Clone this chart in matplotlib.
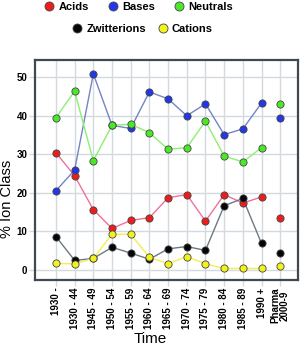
import matplotlib
matplotlib.use("Agg")
import matplotlib.pyplot as plt
from matplotlib.lines import Line2D
import numpy as np

plt.rcParams["font.family"] = ["Liberation Sans", "DejaVu Sans"]

# -- Data --
periods = ["1930 -", "1930 - 44", "1945 - 49", "1950 - 54", "1955 - 59", "1960 - 64",
           "1965 - 69", "1970 - 74", "1975 - 79", "1980 - 84", "1985 - 89", "1990 +",
           "Pharma\n2000-9"]
acids = [30.4, 24.4, 15.6, 10.7, 12.8, 13.5, 18.7, 19.5, 12.6, 19.5, 17.3, 18.9, 13.3]
bases = [20.5, 25.9, 50.9, 37.5, 36.7, 46.2, 44.4, 40.0, 43.1, 35.1, 36.6, 43.3, 39.4]
neutrals = [39.5, 46.4, 28.3, 37.5, 37.8, 35.6, 31.3, 31.7, 38.6, 29.5, 28.0, 31.7, 43.1]
zwitterions = [8.6, 2.4, 2.9, 5.8, 4.3, 2.7, 5.4, 6.0, 5.0, 16.6, 18.5, 6.8, 4.2]
cations = [1.6, 1.5, 2.9, 9.2, 9.2, 3.2, 1.5, 3.4, 1.5, 0.3, 0.3, 0.3, 0.9]

series = [
    ("Acids", acids, "#ee1c1c", "#f0709a"),
    ("Bases", bases, "#2238e8", "#7484c4"),
    ("Neutrals", neutrals, "#4be82a", "#8cf070"),
    ("Zwitterions", zwitterions, "#050505", "#6a7a84"),
    ("Cations", cations, "#f2f21c", "#f2f050"),
]

fig = plt.figure(figsize=(3.02, 3.46), dpi=100)
ax = fig.add_axes([35 / 302, 66 / 346, 263 / 302, 220 / 346])

x = np.arange(len(periods))
handles = []
for name, vals, mcol, lcol in series:
    # connected trend for the historical periods, standalone point for Pharma
    ax.plot(x[:-1], vals[:-1], color=lcol, lw=1.0, zorder=2)
    ax.plot(x, vals, ls="none", marker="o", ms=5.2, mfc=mcol, mec="#444444",
            mew=0.6, zorder=3)
    handles.append(Line2D([], [], ls="none", marker="o", ms=6.5, mfc=mcol,
                          mec="#444444", mew=0.6, label=name))

grid_col = "#d3d9dc"
ax.set_xlim(-1.12, 12.95)
ax.set_ylim(-2.7, 54.5)
ax.set_xticks(x)
ax.set_xticklabels(periods, rotation=90, fontsize=7, fontweight="bold",
                   va="top", ha="center", linespacing=0.95)
ax.set_yticks([0, 10, 20, 30, 40, 50])
ax.tick_params(axis="y", labelsize=7, length=4, width=1.0, color=grid_col, pad=1.5)
ax.tick_params(axis="x", length=4, width=1.0, color=grid_col, pad=1.5)
for lab in ax.get_yticklabels():
    lab.set_fontweight("bold")

ax.grid(True, color=grid_col, lw=1.0, zorder=0)
ax.set_axisbelow(True)
for sp in ax.spines.values():
    sp.set_color("#404850")
    sp.set_linewidth(1.6)

ax.set_ylabel("% Ion Class", fontsize=10.5)
ax.yaxis.set_label_coords(-0.08, 0.368)
ax.set_xlabel("Time", fontsize=11)
ax.xaxis.set_label_coords(0.44, -0.235)

leg_common = dict(frameon=False, handletextpad=0.42, handlelength=0.8,
                  borderaxespad=0, borderpad=0, prop={"weight": "bold", "size": 8})
fig.legend(handles=handles[:3], ncol=3, loc="center", columnspacing=1.8,
           bbox_to_anchor=(139 / 302, 1 - 7 / 346), **leg_common)
fig.legend(handles=handles[3:], ncol=2, loc="center", columnspacing=1.1,
           bbox_to_anchor=(143 / 302, 1 - 29 / 346), **leg_common)

fig.savefig("out.png", dpi=100)
